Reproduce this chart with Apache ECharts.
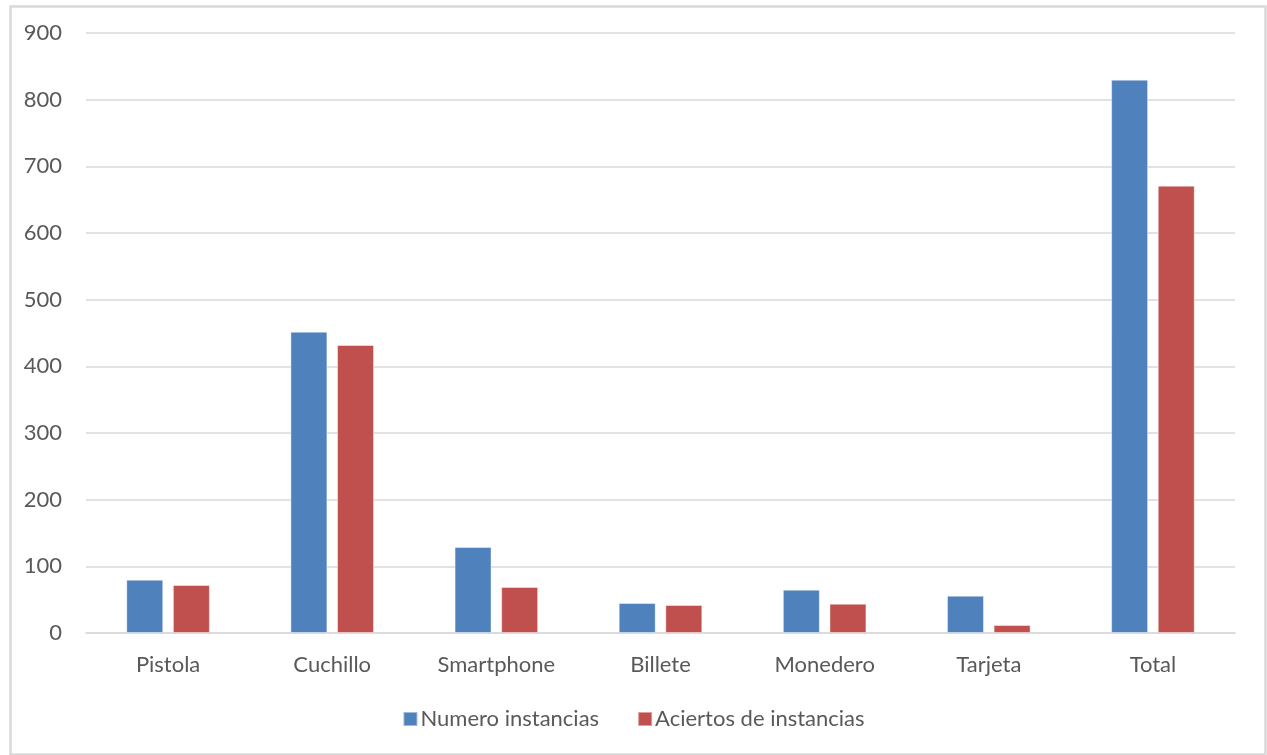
<!DOCTYPE html>
<html>
<head>
<meta charset="utf-8">
<script src="https://cdn.jsdelivr.net/npm/echarts@6/dist/echarts.min.js"></script>
<style>html,body{margin:0;padding:0;background:#fff}#c{width:1267px;height:755px}</style>
</head>
<body>
<div id="c"></div>
<script>
const categories = ['Pistola', 'Cuchillo', 'Smartphone', 'Billete', 'Monedero', 'Tarjeta', 'Total'];
const numeroInstancias = [80, 452, 129, 45, 65, 56, 830];
const aciertosInstancias = [72, 432, 69, 42, 44, 12, 671];
const yTicks = {min: 0, max: 900, interval: 100};

const font = 'Lato, "Open Sans", sans-serif';
const chart = echarts.init(document.getElementById('c'));
chart.setOption({
  animation: false,
  backgroundColor: '#fff',
  graphic: [{
    type: 'rect', left: 8, top: 4,
    shape: {width: 1255, height: 748},
    style: {fill: 'none', stroke: '#d9d9d9', lineWidth: 2.5},
    silent: true
  }],
  grid: {left: 86, right: 32, top: 33, bottom: 122, containLabel: false},
  legend: {
    bottom: 20, left: 'center',
    itemWidth: 14, itemHeight: 14, itemGap: 38,
    icon: 'rect',
    textStyle: {fontFamily: font, fontSize: 22, color: '#595959', padding: [0, 0, 0, -2]},
    data: ['Numero instancias', 'Aciertos de instancias']
  },
  xAxis: {
    type: 'category', data: categories,
    axisLine: {show: true, lineStyle: {color: '#d9d9d9', width: 1.5}},
    axisTick: {show: false},
    axisLabel: {fontFamily: font, fontSize: 22, color: '#595959', margin: 21}
  },
  yAxis: {
    type: 'value', min: yTicks.min, max: yTicks.max, interval: yTicks.interval,
    axisLine: {show: false}, axisTick: {show: false},
    axisLabel: {fontFamily: font, fontSize: 22, color: '#595959', margin: 24},
    splitLine: {lineStyle: {color: '#d9d9d9', width: 1.5}}
  },
  series: [
    {name: 'Numero instancias', type: 'bar', data: numeroInstancias, barWidth: 37, barGap: '26%',
     itemStyle: {color: '#4f81bd', borderColor: 'rgba(255,255,255,0.45)', borderWidth: 1}},
    {name: 'Aciertos de instancias', type: 'bar', data: aciertosInstancias, barWidth: 37,
     itemStyle: {color: '#c0504d', borderColor: 'rgba(255,255,255,0.45)', borderWidth: 1}}
  ]
});
</script>
</body>
</html>
